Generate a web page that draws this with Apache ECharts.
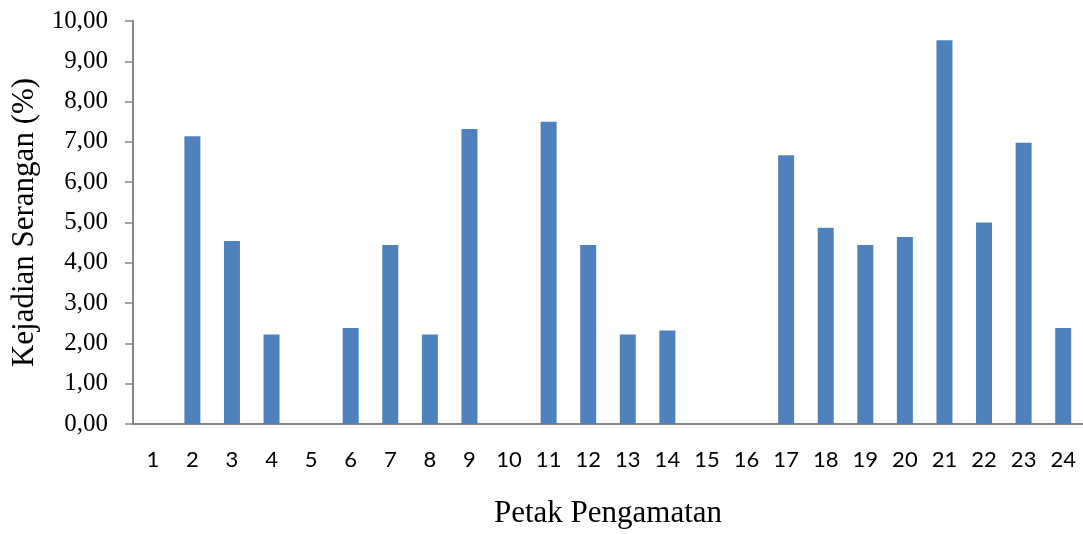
<!DOCTYPE html>
<html>
<head>
<meta charset="utf-8">
<script src="https://cdn.jsdelivr.net/npm/echarts@6/dist/echarts.min.js"></script>
<style>html,body{margin:0;padding:0;background:#fff}#c{width:1083px;height:534px}</style>
</head>
<body>
<div id="c"></div>
<script>
const categories = ['1','2','3','4','5','6','7','8','9','10','11','12','13','14','15','16','17','18','19','20','21','22','23','24'];
const values = [0, 7.14, 4.54, 2.22, 0, 2.38, 4.44, 2.22, 7.32, 0, 7.50, 4.44, 2.22, 2.32, 0, 0, 6.67, 4.87, 4.44, 4.64, 9.52, 5.00, 6.98, 2.38];
const xTitle = 'Petak Pengamatan';
const yTitle = 'Kejadian Serangan (%)';

const serif = '"Liberation Serif", "Times New Roman", serif';
const sans = 'Lato, "Open Sans", sans-serif';
const chart = echarts.init(document.getElementById('c'), null, {renderer: 'canvas'});
chart.setOption({
  animation: false,
  backgroundColor: '#fff',
  grid: {left: 133, top: 21, bottom: 108, right: -4, containLabel: false},
  xAxis: {
    type: 'category',
    data: categories,
    name: xTitle,
    nameLocation: 'middle',
    nameGap: 74,
    nameTextStyle: {fontFamily: serif, fontSize: 31, color: '#000'},
    axisLine: {lineStyle: {color: '#868686', width: 2}},
    axisTick: {alignWithLabel: true, length: 6, lineStyle: {color: '#868686', width: 1.5}},
    axisLabel: {fontFamily: sans, fontSize: 22, color: '#000', margin: 25, interval: 0}
  },
  yAxis: {
    type: 'value',
    min: 0, max: 10, interval: 1,
    name: yTitle,
    nameLocation: 'middle',
    nameGap: 92,
    nameTextStyle: {fontFamily: serif, fontSize: 31, color: '#000'},
    axisLine: {show: true, lineStyle: {color: '#868686', width: 2}},
    axisTick: {show: true, length: 8, lineStyle: {color: '#868686', width: 1.5}},
    splitLine: {show: false},
    axisLabel: {fontFamily: serif, fontSize: 25, color: '#000', margin: 25,
      formatter: v => v.toFixed(2).replace('.', ',')}
  },
  series: [{
    type: 'bar',
    data: values,
    barWidth: 16,
    itemStyle: {color: '#4F81BD'}
  }]
});
</script>
</body>
</html>
